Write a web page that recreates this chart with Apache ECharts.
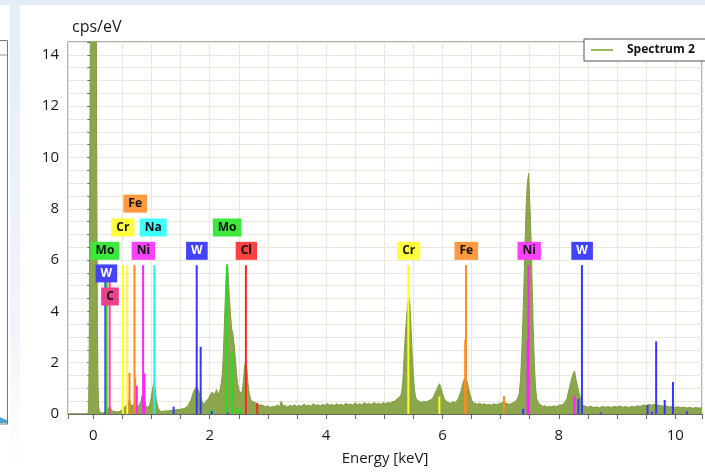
<!DOCTYPE html>
<html><head><meta charset="utf-8">
<script src="https://cdn.jsdelivr.net/npm/echarts@6/dist/echarts.min.js"></script>
<style>html,body{margin:0;padding:0;background:#fff}#c{width:705px;height:472px}</style>
</head><body><div id="c"></div>
<script>
// ---------- DATA ----------
const spectrum = [
[-0.435,0],[-0.09,0],[-0.08,0.3],[-0.07,2.5],[-0.06,9],[-0.05,16],[0.05,16],[0.06,9],[0.07,3.5],[0.08,1.2],[0.09,0.35],[0.10,0.12],
[0.12,0.06],[0.14,0.04],[0.16,0.08],[0.18,0.05],[0.20,0.1],[0.22,0.07],[0.24,0.12],[0.26,0.2],[0.28,0.3],[0.30,0.22],[0.32,0.12],[0.34,0.08],[0.36,0.1],[0.38,0.06],[0.40,0.09],[0.42,0.12],[0.44,0.08],[0.46,0.1],[0.48,0.14],[0.50,0.18],[0.52,0.22],[0.54,0.15],[0.56,0.3],[0.58,0.45],[0.60,0.38],[0.62,0.55],[0.64,0.42],[0.66,0.3],[0.68,0.25],[0.70,0.4],[0.72,0.5],[0.74,0.3],[0.76,0.25],[0.78,0.3],[0.80,0.35],[0.82,0.5],[0.84,0.75],[0.86,0.8],[0.88,0.55],[0.90,0.35],[0.92,0.25],[0.94,0.2],[0.96,0.3],[0.98,0.45],[1.00,0.7],[1.02,1.0],[1.04,1.2],[1.06,1.05],[1.08,0.6],[1.10,0.35],[1.12,0.2],[1.14,0.13],[1.16,0.1],[1.18,0.14],[1.20,0.11],[1.23,0.16],[1.26,0.12],[1.29,0.17],[1.32,0.13],[1.35,0.19],[1.38,0.15],[1.41,0.21],[1.44,0.17],[1.47,0.22],[1.50,0.19],[1.53,0.24],[1.56,0.21],[1.59,0.27],[1.62,0.3],[1.65,0.42],[1.68,0.55],[1.70,0.7],[1.72,0.85],[1.74,0.95],[1.76,1.0],[1.78,1.08],[1.80,0.95],[1.82,0.9],[1.84,0.7],[1.86,0.55],[1.88,0.42],[1.90,0.35],[1.92,0.4],[1.94,0.5],[1.96,0.45],[1.98,0.6],[2.00,0.7],[2.02,0.65],[2.04,0.85],[2.06,0.9],[2.08,0.75],[2.10,0.8],[2.12,0.95],[2.14,0.7],[2.16,0.75],[2.18,0.95],[2.20,1.2],[2.22,1.6],[2.24,2.6],[2.26,4.0],[2.28,5.2],[2.30,5.85],[2.31,5.7],[2.32,5.3],[2.34,4.5],[2.36,3.8],[2.38,3.3],[2.40,3.1],[2.42,2.7],[2.44,2.2],[2.46,1.6],[2.48,1.2],[2.50,0.95],[2.52,0.8],[2.54,0.75],[2.56,0.9],[2.58,1.3],[2.60,1.85],[2.62,2.05],[2.64,1.7],[2.66,1.15],[2.68,0.8],[2.70,0.6],[2.72,0.5],[2.75,0.55],[2.78,0.45],[2.81,0.5],[2.84,0.35],[2.87,0.3],[2.90,0.35],
[2.93,0.3],[2.96,0.28],[3.00,0.32],[3.04,0.25],[3.08,0.3],[3.12,0.27],[3.16,0.35],[3.20,0.28],[3.23,0.5],[3.26,0.3],[3.30,0.33],[3.34,0.27],[3.38,0.34],[3.42,0.3],[3.46,0.36],[3.50,0.29],[3.54,0.34],[3.58,0.3],[3.62,0.38],[3.66,0.31],[3.70,0.35],[3.74,0.3],[3.78,0.4],[3.82,0.33],[3.86,0.36],[3.90,0.31],[3.94,0.38],[3.98,0.33],[4.02,0.41],[4.06,0.34],[4.10,0.37],[4.14,0.32],[4.18,0.4],[4.22,0.35],[4.26,0.38],[4.30,0.33],[4.34,0.42],[4.38,0.35],[4.42,0.39],[4.46,0.34],[4.50,0.43],[4.54,0.36],[4.58,0.4],[4.62,0.35],[4.66,0.44],[4.70,0.38],[4.74,0.41],[4.78,0.36],[4.82,0.45],[4.86,0.38],[4.90,0.42],[4.94,0.37],[4.98,0.44],[5.02,0.4],[5.06,0.45],[5.10,0.42],[5.14,0.48],[5.18,0.5],[5.22,0.58],[5.25,0.62],[5.28,0.7],[5.30,0.85],[5.32,1.3],[5.34,2.2],[5.36,3.0],[5.38,3.7],[5.40,4.2],[5.42,4.55],[5.44,4.3],[5.46,3.3],[5.48,2.3],[5.50,1.5],[5.52,0.9],[5.54,0.65],[5.56,0.55],[5.60,0.5],[5.64,0.45],[5.68,0.5],[5.72,0.46],[5.76,0.52],[5.80,0.55],[5.84,0.65],[5.87,0.8],[5.90,0.95],[5.93,1.1],[5.95,1.18],[5.97,1.05],[6.00,0.8],[6.03,0.6],[6.06,0.5],[6.10,0.45],[6.14,0.42],[6.18,0.48],[6.22,0.45],[6.26,0.55],[6.29,0.7],[6.32,0.9],[6.35,1.2],[6.38,1.38],[6.40,1.42],[6.42,1.3],[6.45,1.0],[6.48,0.7],[6.51,0.5],[6.55,0.42],[6.60,0.38],[6.64,0.42],[6.68,0.36],[6.72,0.4],[6.76,0.35],[6.80,0.38],[6.84,0.34],[6.88,0.4],[6.92,0.36],[6.96,0.39],[7.00,0.42],[7.04,0.45],[7.07,0.48],[7.10,0.42],[7.14,0.38],[7.18,0.4],[7.22,0.45],[7.26,0.5],[7.29,0.6],[7.32,0.8],[7.34,1.3],[7.36,2.2],[7.38,3.5],[7.40,5.0],[7.42,6.7],[7.44,8.2],[7.46,9.0],[7.48,9.38],[7.50,8.3],[7.52,7.0],[7.54,5.2],[7.56,3.3],[7.58,1.9],[7.60,1.0],[7.62,0.6],[7.65,0.42],[7.68,0.35],[7.72,0.3],[7.76,0.32],[7.80,0.27],[7.84,0.3],[7.88,0.28],[7.92,0.32],[7.96,0.29],[8.00,0.34],[8.04,0.35],[8.08,0.38],[8.11,0.45],[8.14,0.6],[8.17,0.9],[8.20,1.2],[8.23,1.45],[8.25,1.6],[8.27,1.68],[8.29,1.4],[8.31,1.2],[8.33,1.0],[8.35,0.8],[8.38,0.5],[8.41,0.35],[8.45,0.3],[8.50,0.26],[8.55,0.3],[8.60,0.25],[8.65,0.28],[8.70,0.24],[8.75,0.3],[8.80,0.26],[8.85,0.29],[8.90,0.25],[8.95,0.3],[9.00,0.27],[9.05,0.31],[9.10,0.26],[9.15,0.29],[9.20,0.25],[9.25,0.3],[9.30,0.27],[9.35,0.32],[9.40,0.29],[9.45,0.35],[9.50,0.33],[9.55,0.37],[9.60,0.34],[9.65,0.38],[9.70,0.35],[9.75,0.33],[9.80,0.3],[9.85,0.32],[9.90,0.27],[9.95,0.3],[10.00,0.25],[10.05,0.28],[10.10,0.24],[10.15,0.27],[10.20,0.23],[10.25,0.26],[10.30,0.22],[10.35,0.25],[10.40,0.23],[10.46,0.24]
];
const markerElement = ['W','Mo','C','Cr','Cr','Fe','Fe','Fe','Ni','Ni','Ni','Na','W','W','W','Mo','W','Mo','W','Mo','Mo','Mo','Cl','Cl','Cr','Cr','Fe','Fe','Fe','W','Ni','Ni','Ni','W','W','W','W','W','W','W','W','W'];
const markerEnergy  = [0.207,0.23,0.281,0.508,0.583,0.622,0.708,0.72,0.747,0.856,0.878,1.049,1.38,1.777,1.845,2.016,2.035,2.295,2.31,2.396,2.47,2.52,2.622,2.817,5.414,5.947,6.404,6.391,7.057,7.387,7.478,7.461,8.267,8.335,8.397,8.72,9.525,9.60,9.672,9.819,9.961,10.2];
const markerHeight  = [5.8,5.8,5.8,5.8,5.8,1.6,5.8,1.42,1.1,5.8,1.58,5.8,0.29,5.8,2.62,0.16,0.12,5.8,0.06,2.4,0.25,0.2,5.8,0.43,5.8,0.68,5.8,2.9,0.7,0.2,5.8,2.9,0.7,0.58,5.8,0.06,0.34,0.08,2.83,0.55,1.25,0.1];
const labelElement = ['Fe','Cr','Na','Mo','Ni','W','C','W','Mo','Cl','Cr','Fe','Ni','W'];
const labelEnergy  = [0.72,0.508,1.03,0.2,0.86,0.225,0.287,1.78,2.30,2.63,5.42,6.41,7.49,8.40];
const labelLevel   = [8.2,7.27,7.27,6.36,6.36,5.48,4.58,6.36,7.27,6.36,6.36,6.36,6.36,6.36];
const xTickLabels = [0,2,4,6,8,10];
const yTickLabels = [0,2,4,6,8,10,12,14];
const seriesName = 'Spectrum 2';
const yUnit = 'cps/eV';
const xTitle = 'Energy [keV]';

// ---------- STYLE ----------
const FONT = '"Open Sans", "DejaVu Sans", sans-serif';
const lineColor = {W:'#3535ff',Mo:'#1fe01f',C:'#ff3c96',Cr:'#ffff1f',Fe:'#ff8a1f',Ni:'#ff22ff',Na:'#22f2f2',Cl:'#ff2424'};
const boxColor  = {W:'#4343f8',Mo:'#3ce83c',C:'#ec3f8e',Cr:'#ffff3c',Fe:'#ff9a40',Ni:'#ff40ff',Na:'#40ffff',Cl:'#ff4040'};
const textColor = {W:'#ffffff',Mo:'#111',C:'#111',Cr:'#111',Fe:'#111',Ni:'#111',Na:'#111',Cl:'#111'};
const near = (v, arr) => arr.some(t => Math.abs(v - t) < 1e-6);

const chart = echarts.init(document.getElementById('c'), null, {renderer:'canvas'});
chart.setOption({
  animation:false,
  backgroundColor:'#ffffff',
  graphic:[
    {type:'rect', shape:{x:0,y:0,width:705,height:5}, style:{fill:'#e3ecf7'}, silent:true},
    {type:'rect', shape:{x:10,y:5,width:10,height:467}, style:{fill:new echarts.graphic.LinearGradient(0,0,0,1,[{offset:0,color:'#e4edf8'},{offset:0.7,color:'#f1f5fb'},{offset:1,color:'#ffffff'}])}, silent:true},
    {type:'rect', shape:{x:-2,y:40.5,width:9.5,height:383.5}, style:{fill:'#fff', stroke:'#777', lineWidth:1}, silent:true},
    {type:'line', shape:{x1:0,y1:55,x2:7,y2:55}, style:{stroke:'#999',lineWidth:1}, silent:true},
    {type:'polygon', shape:{points:[[0,417],[4,419],[7,420],[7,423],[0,423]]}, style:{fill:'#4aa8d0'}, silent:true},
    {type:'text', left:72, top:19, style:{text:yUnit, fontSize:16, fill:'#1a1a1a', fontFamily:FONT}, silent:true}
  ],
  grid:{left:68, right:-2, top:42, bottom:58, show:true, borderColor:'#666', borderWidth:1, backgroundColor:'transparent'},
  legend:{
    data:[{name:seriesName, icon:'rect', itemStyle:{color:'#9bbb59'}}],
    left:584, top:39, itemWidth:22, itemHeight:2, padding:[5,20,5,7],
    borderColor:'#555', borderWidth:1, backgroundColor:'#fff', selectedMode:false,
    textStyle:{fontFamily:FONT, fontWeight:'bold', fontSize:12, color:'#111', padding:[0,0,0,9]}
  },
  xAxis:{
    type:'value', min:-0.4348, max:10.46, splitNumber:22, minInterval:0.5, maxInterval:0.5,
    axisLine:{show:true, onZero:false, lineStyle:{color:'#666'}},
    axisTick:{show:true, length:5, lineStyle:{color:'#666'}},
    axisLabel:{formatter:v => near(v, xTickLabels) ? String(Math.round(v)) : '', margin:14, fontSize:15, color:'#1a1a1a', fontFamily:FONT},
    splitLine:{show:true, lineStyle:{color:'#ebe7dd', width:1}},
    name:xTitle, nameLocation:'middle', nameGap:37,
    nameTextStyle:{fontSize:15, color:'#1a1a1a', fontFamily:FONT}
  },
  yAxis:{
    type:'value', min:0, max:14.5, interval:0.5,
    axisLine:{show:true, lineStyle:{color:'#666'}},
    axisTick:{show:true, length:6, lineStyle:{color:'#666'}},
    axisLabel:{formatter:v => near(v, yTickLabels) ? String(Math.round(v)) : '', margin:9, fontSize:15, color:'#1a1a1a', fontFamily:FONT},
    splitLine:{show:true, lineStyle:{color:'#ebe7dd', width:1}}
  },
  series:[
    {
      name:seriesName, type:'line', data:spectrum, showSymbol:false, symbol:'none', z:2, clip:true, silent:true,
      lineStyle:{color:'#7f9b42', width:1}, areaStyle:{color:'#8ca64d', opacity:1}
    },
    {
      type:'custom', z:4, silent:true, clip:true,
      data: markerEnergy.map((e,i) => [e, markerHeight[i], i]),
      encode:{x:0, y:1},
      renderItem:(params, api) => {
        const i = api.value(2);
        const a = api.coord([api.value(0), 0]);
        const b = api.coord([api.value(0), api.value(1)]);
        return {type:'line', shape:{x1:a[0], y1:a[1], x2:b[0], y2:b[1]}, style:{stroke:lineColor[markerElement[i]], lineWidth:2, opacity:1}};
      }
    },
    {
      type:'scatter', z:6, silent:true, symbolSize:1, itemStyle:{color:'rgba(0,0,0,0)', opacity:1},
      label:{show:true, position:'inside', fontFamily:FONT, fontWeight:'bold', fontSize:12, lineHeight:14, padding:[2,5,2,5], opacity:1},
      data: labelElement.map((el,i) => ({
        value:[labelEnergy[i], labelLevel[i]],
        label:{formatter:el, backgroundColor:boxColor[el], color:textColor[el]}
      }))
    }
  ]
});
</script></body></html>
